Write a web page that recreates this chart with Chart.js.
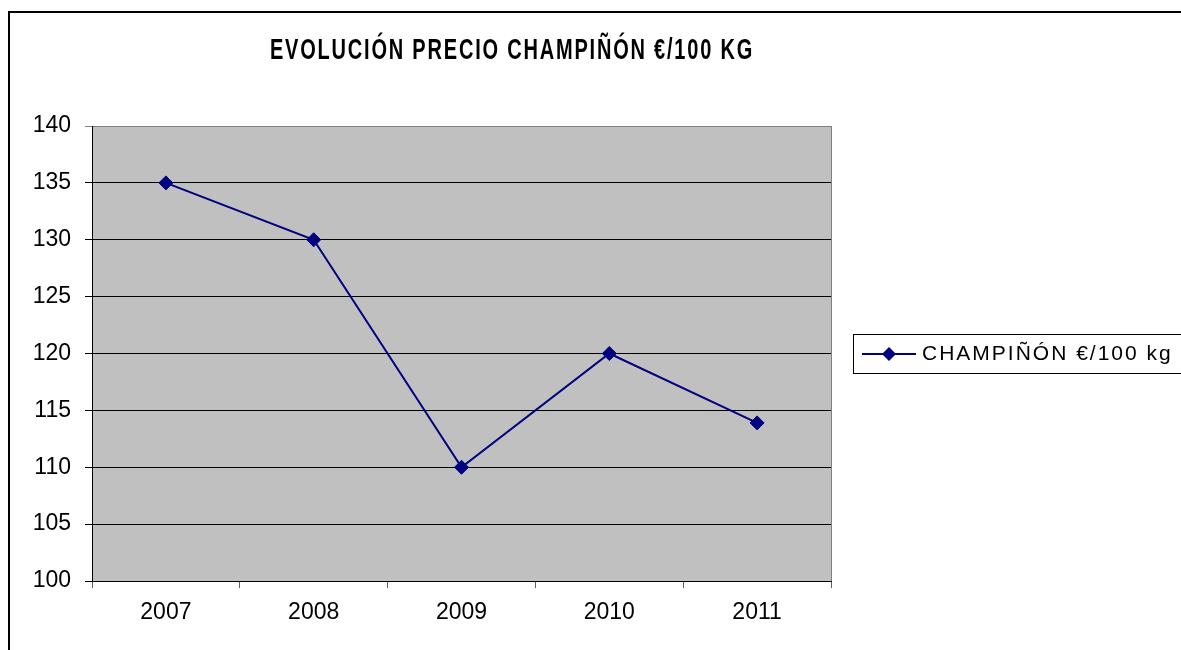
<!DOCTYPE html>
<html>
<head>
<meta charset="utf-8">
<script src="https://cdn.jsdelivr.net/npm/chart.js@4/dist/chart.umd.min.js"></script>
<style>
  html, body { margin: 0; padding: 0; background: #fff; overflow: hidden; }
  #wrap { width: 1181px; height: 650px; position: relative; }
</style>
</head>
<body>
<div id="wrap"><canvas id="c" width="1181" height="650"></canvas></div>
<script>
const titleText = 'EVOLUCIÓN PRECIO CHAMPIÑÓN €/100 KG';
const seriesLabel = 'CHAMPIÑÓN €/100 kg';
const years = ['2007', '2008', '2009', '2010', '2011'];
const prices = [135, 130, 110, 120, 113.9];
const yMin = 100, yMax = 140, yStep = 5;

const navy = '#000080';
const FONT = '"Liberation Sans", Arial, sans-serif';

const decor = {
  id: 'decor',
  beforeDraw(chart) {
    const { ctx, chartArea: a } = chart;
    ctx.save();
    ctx.fillStyle = '#c0c0c0';
    ctx.fillRect(a.left, a.top, a.right - a.left, a.bottom - a.top);
    ctx.restore();
  },
  afterDraw(chart) {
    const { ctx, chartArea: a } = chart;
    ctx.save();
    // outer chart border (left + top visible)
    ctx.strokeStyle = '#000';
    ctx.lineWidth = 2;
    ctx.beginPath();
    ctx.moveTo(9, 660);
    ctx.lineTo(9, 12);
    ctx.lineTo(1200, 12);
    ctx.stroke();
    // plot area right border
    ctx.strokeStyle = '#808080';
    ctx.lineWidth = 1;
    ctx.beginPath();
    ctx.moveTo(Math.round(a.right) + 0.5, a.top);
    ctx.lineTo(Math.round(a.right) + 0.5, a.bottom);
    ctx.stroke();

    // title
    ctx.fillStyle = '#000';
    ctx.font = 'bold 20px ' + FONT;
    ctx.letterSpacing = '1.8px';
    ctx.textAlign = 'center';
    ctx.textBaseline = 'alphabetic';
    ctx.save();
    ctx.translate(512, 59);
    ctx.scale(1, 1.45);
    ctx.fillText(titleText, 0, 0);
    ctx.restore();

    // legend
    const ds = chart.data.datasets[0];
    ctx.letterSpacing = '0px';
    ctx.strokeStyle = '#000';
    ctx.lineWidth = 1;
    ctx.strokeRect(853.5, 334.5, 400, 39);
    ctx.strokeStyle = ds.borderColor;
    ctx.lineWidth = ds.borderWidth;
    ctx.beginPath();
    ctx.moveTo(862, 354);
    ctx.lineTo(916, 354);
    ctx.stroke();
    ctx.fillStyle = ds.pointBackgroundColor;
    ctx.beginPath();
    ctx.moveTo(889, 347);
    ctx.lineTo(896, 354);
    ctx.lineTo(889, 361);
    ctx.lineTo(882, 354);
    ctx.closePath();
    ctx.fill();
    ctx.fillStyle = '#000';
    ctx.font = '21px ' + FONT;
    ctx.letterSpacing = '2px';
    ctx.textAlign = 'left';
    ctx.textBaseline = 'middle';
    ctx.fillText(ds.label, 922, 354);
    ctx.restore();
  }
};

new Chart(document.getElementById('c'), {
  type: 'line',
  data: {
    labels: years,
    datasets: [{
      label: seriesLabel,
      data: prices,
      borderColor: navy,
      backgroundColor: navy,
      pointBackgroundColor: navy,
      pointBorderColor: navy,
      borderWidth: 2,
      pointStyle: 'rectRot',
      pointRadius: 7,
      pointBorderWidth: 1,
      tension: 0,
      fill: false
    }]
  },
  options: {
    responsive: false,
    animation: false,
    devicePixelRatio: 1,
    layout: { padding: { left: 0, right: 350, top: 126, bottom: 0 } },
    plugins: {
      legend: { display: false },
      title: { display: false },
      tooltip: { enabled: false }
    },
    scales: {
      x: {
        offset: true,
        grid: {
          offset: true,
          drawOnChartArea: false,
          drawTicks: true,
          tickLength: 7,
          color: '#606060'
        },
        border: { display: true, color: '#000', width: 1 },
        ticks: {
          color: '#000',
          padding: 11,
          font: { family: FONT, size: 23 }
        },
        afterFit(s) { s.height = 69; }
      },
      y: {
        min: yMin,
        max: yMax,
        grid: {
          color: (c) => (c.tick && c.tick.value === yMax ? '#808080' : '#000'),
          tickLength: 7,
          drawTicks: true
        },
        border: { display: true, color: '#000', width: 1 },
        ticks: {
          stepSize: yStep,
          color: '#000',
          padding: 14,
          font: { family: FONT, size: 23 }
        },
        afterFit(s) { s.width = 92; }
      }
    }
  },
  plugins: [decor]
});
</script>
</body>
</html>
